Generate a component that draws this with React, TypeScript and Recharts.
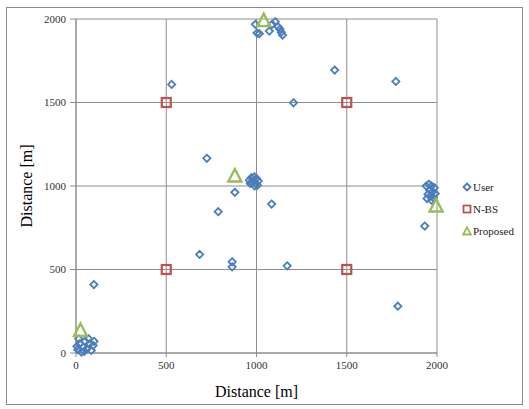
import { ScatterChart, Scatter, XAxis, YAxis, CartesianGrid } from 'recharts';

// users scattered over the 2 km x 2 km area
const userPoints = [
  // isolated users
  { x: 530, y: 1608 }, { x: 1433, y: 1694 }, { x: 1772, y: 1626 }, { x: 1205, y: 1498 },
  { x: 725, y: 1166 }, { x: 880, y: 962 }, { x: 788, y: 846 }, { x: 1084, y: 892 },
  { x: 1932, y: 760 }, { x: 685, y: 590 }, { x: 865, y: 546 }, { x: 865, y: 516 },
  { x: 1170, y: 522 }, { x: 99, y: 410 }, { x: 1783, y: 280 },
  // top cluster
  { x: 994, y: 1968 }, { x: 1003, y: 1916 }, { x: 1016, y: 1912 }, { x: 1071, y: 1928 },
  { x: 1104, y: 1984 }, { x: 1086, y: 1968 }, { x: 1119, y: 1954 }, { x: 1130, y: 1940 },
  { x: 1137, y: 1920 }, { x: 1144, y: 1904 },
  // right cluster
  { x: 1940, y: 1000 }, { x: 1955, y: 1010 }, { x: 1970, y: 1000 }, { x: 1985, y: 990 },
  { x: 1960, y: 975 }, { x: 1975, y: 965 }, { x: 1990, y: 955 }, { x: 1950, y: 950 },
  { x: 1965, y: 940 }, { x: 1980, y: 930 }, { x: 1945, y: 925 }, { x: 1970, y: 915 },
  // center cluster
  { x: 960, y: 1035 }, { x: 972, y: 1050 }, { x: 988, y: 1055 }, { x: 1000, y: 1045 },
  { x: 1010, y: 1030 }, { x: 995, y: 1015 }, { x: 975, y: 1020 }, { x: 990, y: 1000 },
  { x: 1005, y: 1005 }, { x: 965, y: 1015 },
  // bottom-left cluster
  { x: 10, y: 20 }, { x: 20, y: 55 }, { x: 30, y: 5 }, { x: 40, y: 35 }, { x: 50, y: 70 },
  { x: 60, y: 25 }, { x: 75, y: 55 }, { x: 85, y: 15 }, { x: 95, y: 45 }, { x: 100, y: 70 },
  { x: 15, y: 85 }, { x: 5, y: 40 }, { x: 45, y: 10 }, { x: 70, y: 85 },
];

const nbsPoints = [
  { x: 500, y: 1500 }, { x: 1500, y: 1500 }, { x: 500, y: 500 }, { x: 1500, y: 500 },
];

const proposedPoints = [
  { x: 1040, y: 1990 }, { x: 880, y: 1060 }, { x: 1995, y: 880 }, { x: 25, y: 135 },
];

const axisTicks = [0, 500, 1000, 1500, 2000];

const BLUE = '#4A7EBB';
const RED = '#C0504D';
const GREEN = '#9BBB59';
const FONT = '"Liberation Serif", "Times New Roman", serif';

const Diamond = ({ cx, cy }: any) => (
  <path d={`M${cx},${cy - 3.6}L${cx + 3.6},${cy}L${cx},${cy + 3.6}L${cx - 3.6},${cy}Z`} fill="none" stroke={BLUE} strokeWidth={1.8} />
);

const Square = ({ cx, cy }: any) => (
  <rect x={cx - 4.5} y={cy - 4.5} width={9} height={9} fill="none" stroke={RED} strokeWidth={2.2} />
);

const Triangle = ({ cx, cy }: any) => (
  <path d={`M${cx},${cy - 7}L${cx + 6.5},${cy + 5.5}L${cx - 6.5},${cy + 5.5}Z`} fill="none" stroke={GREEN} strokeWidth={2.4} strokeLinejoin="miter" />
);

const XTick = ({ x, y, payload }: any) => (
  <text x={x} y={y} dy="0.75em" textAnchor="middle" fontSize={11} fill="#333" fontFamily={FONT}>{payload.value}</text>
);

const YTick = ({ x, y, payload }: any) => (
  <text x={x} y={y} dy="0.35em" textAnchor="end" fontSize={11} fill="#333" fontFamily={FONT}>{payload.value}</text>
);

const legendItems = [
  { name: 'User', icon: 'diamond' },
  { name: 'N-BS', icon: 'square' },
  { name: 'Proposed', icon: 'triangle' },
];

function LegendBox() {
  return (
    <div style={{ position: 'absolute', left: 462, top: 176, fontFamily: FONT, fontSize: 11, color: '#222' }}>
      {legendItems.map((it) => (
        <div key={it.name} style={{ display: 'flex', alignItems: 'center', height: 22 }}>
          <svg width={10} height={10} style={{ marginRight: 1 }}>
            {it.icon === 'diamond' && <path d="M5,1.5L8.5,5L5,8.5L1.5,5Z" fill="none" stroke={BLUE} strokeWidth={1.8} />}
            {it.icon === 'square' && <rect x={1.5} y={1.5} width={7} height={7} fill="none" stroke={RED} strokeWidth={1.8} />}
            {it.icon === 'triangle' && <path d="M5,1.2L8.8,8.5L1.2,8.5Z" fill="none" stroke={GREEN} strokeWidth={1.8} />}
          </svg>
          <span>{it.name}</span>
        </div>
      ))}
    </div>
  );
}

export default function App() {
  return (
    <div style={{ position: 'absolute', left: 0, top: 0, width: 529, height: 409, background: '#fff', fontFamily: FONT }}>
      <div style={{ position: 'absolute', left: 6, top: 7, width: 515, height: 396, border: '1px solid #8a8a8a' }} />
      <ScatterChart width={529} height={409} margin={{ top: 19, right: 92, bottom: 0, left: 0 }}>
        <CartesianGrid stroke="#8e8e8e" strokeWidth={1} />
        <XAxis
          type="number"
          dataKey="x"
          domain={[0, 2000]}
          ticks={axisTicks}
          stroke="#8e8e8e"
          tickSize={4}
          tickMargin={4}
          tick={<XTick />}
          height={56}
          label={{ value: 'Distance [m]', position: 'insideBottom', offset: 12, style: { fontSize: 16, fill: '#000', fontFamily: FONT } }}
        />
        <YAxis
          type="number"
          dataKey="y"
          domain={[0, 2000]}
          ticks={axisTicks}
          stroke="#8e8e8e"
          tickSize={6}
          tickMargin={4}
          tick={<YTick />}
          width={76}
          label={{ value: 'Distance [m]', angle: -90, position: 'insideLeft', offset: 26, style: { fontSize: 16, fill: '#000', fontFamily: FONT, textAnchor: 'middle' } }}
        />
        <Scatter name="User" data={userPoints} shape={Diamond} isAnimationActive={false} />
        <Scatter name="N-BS" data={nbsPoints} shape={Square} isAnimationActive={false} />
        <Scatter name="Proposed" data={proposedPoints} shape={Triangle} isAnimationActive={false} />
      </ScatterChart>
      <LegendBox />
    </div>
  );
}
